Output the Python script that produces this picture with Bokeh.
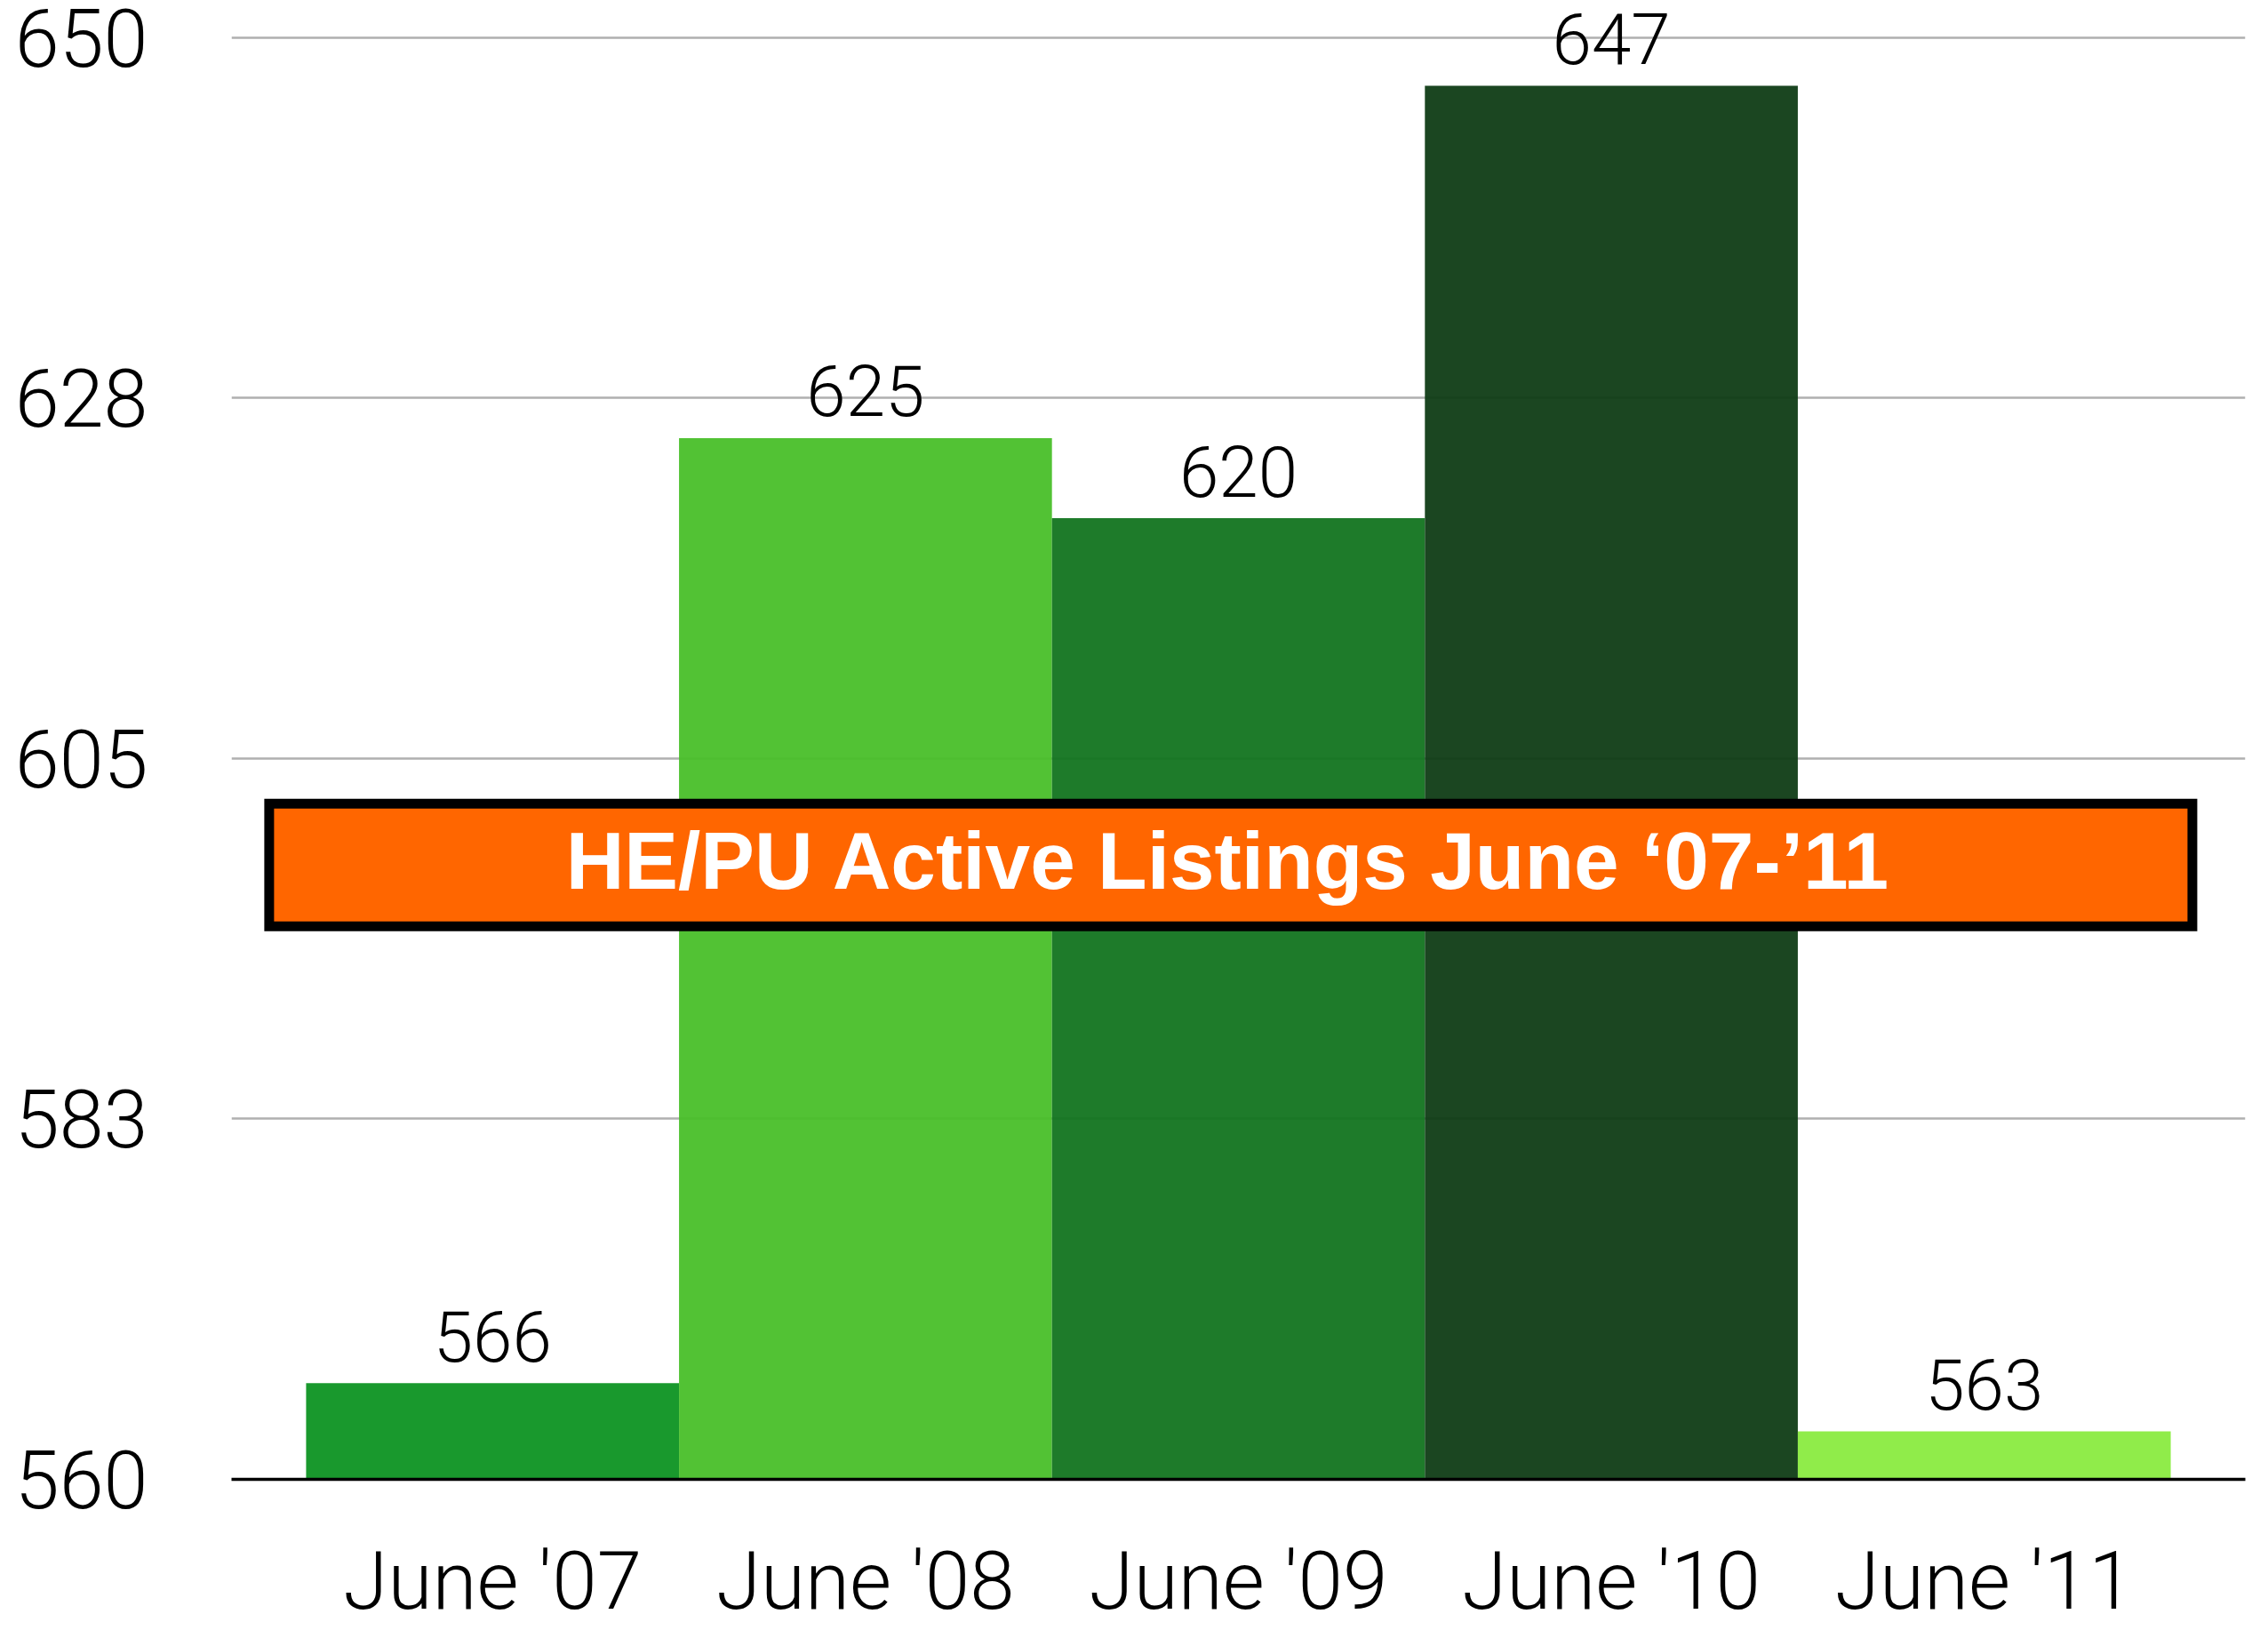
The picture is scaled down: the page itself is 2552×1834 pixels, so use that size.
from bokeh.plotting import figure
from bokeh.models import FactorRange, Range1d, FixedTicker, BoxAnnotation, Label, ColumnDataSource
from bokeh.core.properties import value
from bokeh.embed import file_html
from bokeh.resources import INLINE

categories = ["June '07", "June '08", "June '09", "June '10", "June '11"]
listings = [566, 625, 620, 647, 563]
bar_colors = ["#0D9422", "#49BF29", "#12741F", "#0F3C15", "#8AEB40"]
y_ticks = [560, 582.5, 605, 627.5, 650]
y_tick_labels = ["560", "583", "605", "628", "650"]
title_text = "HE/PU Active Listings June \u201807-\u201911"

FONT = "Roboto Light, Liberation Sans"
BOLD_FONT = "Liberation Sans"

src = ColumnDataSource(dict(cat=categories, val=listings, color=bar_colors,
                            label=[str(v) for v in listings]))

# y range reaches a little above the top tick so the top grid line and the top value label are not clipped
p = figure(width=2552, height=1834, output_backend="svg", toolbar_location=None,
           x_range=FactorRange(factors=categories, range_padding=0.08),
           y_range=Range1d(560, 652.326),
           min_border_left=260, min_border_right=26, min_border_top=0, min_border_bottom=167)
p.outline_line_color = None
p.background_fill_color = "white"
p.border_fill_color = "white"

p.vbar(x="cat", top="val", bottom=y_ticks[0], width=1.0, fill_color="color",
       line_color=None, fill_alpha=0.95, source=src)

p.text(x="cat", y="val", text="label", source=src, text_align="center",
       text_baseline="alphabetic", y_offset=-53, text_font=value(FONT),
       text_font_size="80px", text_color="black")

# y axis
p.yaxis.ticker = FixedTicker(ticks=y_ticks)
p.yaxis.major_label_overrides = {t: l for t, l in zip(y_ticks, y_tick_labels)}
p.yaxis.axis_line_color = None
p.yaxis.major_tick_line_color = None
p.yaxis.minor_tick_line_color = None
p.yaxis.major_label_text_font = FONT
p.yaxis.major_label_text_font_size = "90px"
p.yaxis.major_label_text_color = "black"
p.yaxis.major_label_standoff = 88

# x axis
p.xaxis.axis_line_color = "black"
p.xaxis.axis_line_width = 3.5
p.xaxis.major_tick_line_color = None
p.xaxis.minor_tick_line_color = None
p.xaxis.major_label_text_font = FONT
p.xaxis.major_label_text_font_size = "91px"
p.xaxis.major_label_text_color = "black"
p.xaxis.major_label_standoff = 55

p.xgrid.grid_line_color = None
p.ygrid.ticker = FixedTicker(ticks=y_ticks)
p.ygrid.grid_line_color = "#b0b0b0"
p.ygrid.grid_line_width = 2.5

box = BoxAnnotation(left=-0.099, right=5.058, bottom=594.53, top=602.18,
                    fill_color="#FF6600", fill_alpha=1.0,
                    line_color="black", line_width=11, line_alpha=1.0,
                    line_join="miter")
p.add_layout(box)

title = Label(x=2.474, y=598.6, text=title_text, text_align="center",
              text_baseline="middle", text_font=BOLD_FONT, text_font_style="bold",
              text_font_size="91px", text_color="white")
p.add_layout(title)

open("out.html", "w").write(file_html(p, INLINE))
